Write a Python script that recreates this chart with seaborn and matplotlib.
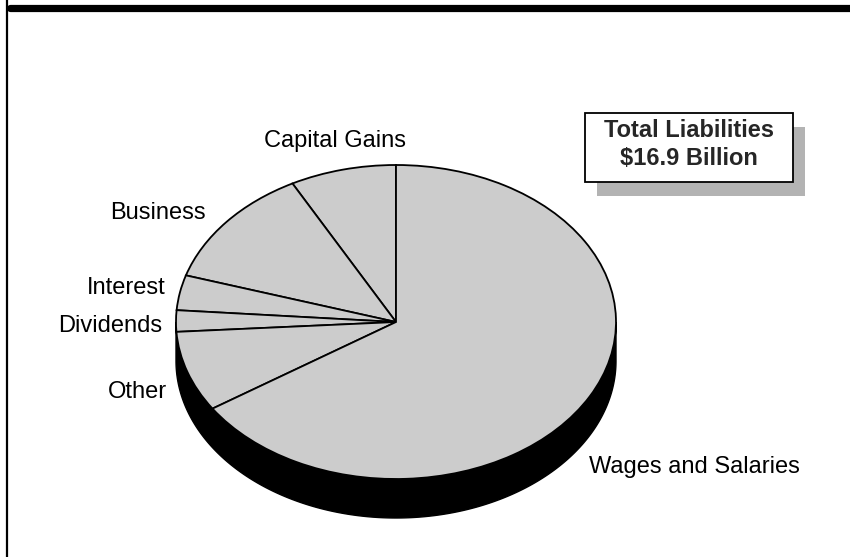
import numpy as np
import matplotlib
matplotlib.use("Agg")
import matplotlib.pyplot as plt
from matplotlib.patches import Rectangle
import seaborn as sns

# Personal income tax liabilities by source (percent of total)
sources = ["Capital Gains", "Business", "Interest", "Dividends", "Other", "Wages and Salaries"]
shares = [7.8, 12.4, 3.6, 2.2, 8.3, 65.7]
total_label = ["Total Liabilities", "$16.9 Billion"]

sns.set_theme(style="white")
plt.rcParams["font.family"] = ["Liberation Sans", "DejaVu Sans"]

W, H = 850, 557
fig = plt.figure(figsize=(W / 100, H / 100), dpi=100)
fig.patch.set_facecolor("white")

# Pie geometry in pixels: centre, horizontal / vertical radii, side depth
cx, cy, rx, ry, depth = 396, 322, 220, 157, 39

ax = fig.add_axes([0, 0, 1, 1])
pie_face = sns.color_palette(["#cccccc"])[0]
ax.pie(shares, startangle=90, counterclock=True, colors=[pie_face] * len(shares),
       wedgeprops=dict(edgecolor="black", linewidth=1.3), radius=1, center=(0, 0),
       frame=False)

# Black side wall of the tilted pie
d = depth / ry
t = np.linspace(np.pi, 2 * np.pi, 300)
xs = np.concatenate([np.cos(t), np.cos(t[::-1])])
ys = np.concatenate([np.sin(t), np.sin(t[::-1]) - d])
ax.fill(xs, ys, color="black", zorder=0.5, lw=1)

ax.set_aspect("auto")
ax.set_xlim((0 - cx) / rx, (W - cx) / rx)
ax.set_ylim((cy - H) / ry, cy / ry)
ax.axis("off")

# Overlay in pixel coordinates for labels and decorations
ov = fig.add_axes([0, 0, 1, 1], zorder=5)
ov.set_xlim(0, W)
ov.set_ylim(H, 0)
ov.axis("off")
ov.patch.set_alpha(0)

fs = 17
label_pos = {
    "Capital Gains": (264, 147, "left"),
    "Business": (206, 219, "right"),
    "Interest": (166, 294, "right"),
    "Dividends": (162, 332, "right"),
    "Other": (167, 398, "right"),
    "Wages and Salaries": (589, 473, "left"),
}
for name in sources:
    x, y, ha = label_pos[name]
    ov.text(x, y, name, ha=ha, va="baseline", fontsize=fs, color="black")

# Total box with drop shadow
bx0, by0, bx1, by1 = 585, 113, 793, 182
ov.add_patch(Rectangle((bx0 + 12, by0 + 14), bx1 - bx0, by1 - by0,
                       facecolor="#b3b3b3", edgecolor="none", zorder=1))
ov.add_patch(Rectangle((bx0, by0), bx1 - bx0, by1 - by0,
                       facecolor="white", edgecolor="black", linewidth=1.3, zorder=2))
ov.text((bx0 + bx1) / 2, 137, total_label[0], ha="center", va="baseline",
        fontsize=fs, fontweight="bold", zorder=3)
ov.text((bx0 + bx1) / 2, 165, total_label[1], ha="center", va="baseline",
        fontsize=fs, fontweight="bold", zorder=3)

# Heavy rule along the top and frame line at the left
ov.plot([10, W + 5], [8, 8], color="black", lw=5.2, solid_capstyle="round", zorder=4)
ov.plot([7, 7], [0, H], color="black", lw=1.6, zorder=4)

fig.savefig("out.png", dpi=100)
